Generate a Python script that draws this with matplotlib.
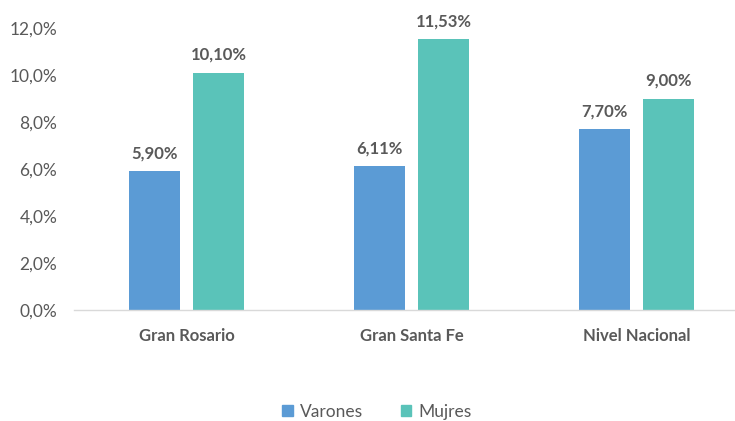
import matplotlib.pyplot as plt
from matplotlib.patches import Patch
import numpy as np

categories = ['Gran Rosario', 'Gran Santa Fe', 'Nivel Nacional']
varones = [5.90, 6.11, 7.70]
mujeres = [10.10, 11.53, 9.00]
series_names = ['Varones', 'Mujres']
labels_v = ['5,90%', '6,11%', '7,70%']
labels_m = ['10,10%', '11,53%', '9,00%']
yticks = [0, 2, 4, 6, 8, 10, 12]

blue = '#5B9BD5'
teal = '#5AC3B9'
grey = '#595959'

plt.rcParams['font.family'] = ['Lato', 'DejaVu Sans']

fig = plt.figure(figsize=(7.35, 4.21), dpi=100)
ax = fig.add_axes([74 / 735, 1 - 310 / 421, 675 / 735, 282 / 421])

x = np.arange(len(categories))
w = 0.227
off = 0.142
b1 = ax.bar(x - off, varones, w, color=blue)
b2 = ax.bar(x + off, mujeres, w, color=teal)

for bars, labs in ((b1, labels_v), (b2, labels_m)):
    for b, lab in zip(bars, labs):
        ax.annotate(lab, (b.get_x() + b.get_width() / 2, b.get_height()),
                    xytext=(0, 7), textcoords='offset points', ha='center', va='bottom',
                    fontsize=12, fontweight='bold', color=grey)

ax.set_xlim(-0.5, 2.5)
ax.set_ylim(0, 12)
ax.set_yticks(yticks)
ax.set_yticklabels([f'{t:.1f}%'.replace('.', ',') for t in yticks], fontsize=12.5, color=grey)
ax.set_xticks(x)
ax.set_xticklabels(categories, fontsize=12, fontweight='bold', color=grey)
ax.tick_params(axis='both', length=0)
ax.tick_params(axis='x', pad=13)
ax.tick_params(axis='y', pad=12)
for s in ['top', 'right', 'left']:
    ax.spines[s].set_visible(False)
ax.spines['bottom'].set_color('#D9D9D9')
ax.spines['bottom'].set_linewidth(1)

handles = [Patch(color=blue), Patch(color=teal)]
fig.legend(handles, series_names, loc='center', bbox_to_anchor=(377 / 735, 1 - 412 / 421),
           ncol=2, frameon=False, fontsize=12.5, labelcolor=grey,
           handlelength=0.6, handleheight=0.6, handletextpad=0.4, columnspacing=2.2)

fig.savefig('out.png', dpi=100)
